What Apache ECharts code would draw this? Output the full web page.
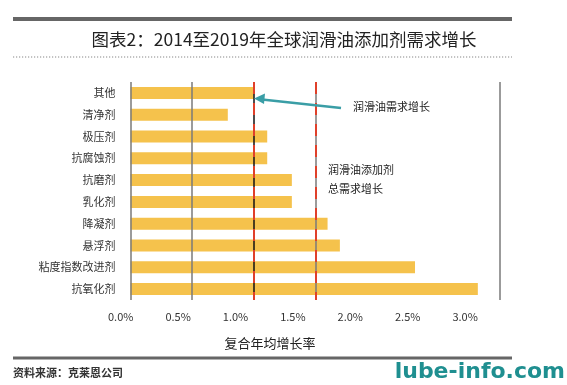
<!DOCTYPE html>
<html><head><meta charset="utf-8">
<script src="https://cdn.jsdelivr.net/npm/echarts@6/dist/echarts.min.js"></script>
<style>html,body{margin:0;padding:0;background:#fff}#c{width:567px;height:385px}</style>
</head><body><div id="c"></div>
<script>
var categories = ['其他','清净剂','极压剂','抗腐蚀剂','抗磨剂','乳化剂','降凝剂','悬浮剂','粘度指数改进剂','抗氧化剂'];
var values = [1.0, 0.79, 1.11, 1.11, 1.31, 1.31, 1.60, 1.70, 2.31, 2.82];
var tickLabels = [0, 0.5, 1.0, 1.5, 2.0, 2.5, 3.0];
var grayLines = [0, 0.5, 1.5, 3.0];
var blackLines = [1.0];
var redLines = [1.0, 1.5];
var FONT = '"Noto Sans CJK SC", "Noto Sans", sans-serif';

var chart = echarts.init(document.getElementById('c'));
chart.setOption({
  animation: false,
  title: {
    text: '图表2：2014至2019年全球润滑油添加剂需求增长',
    left: 279, top: 26, textAlign: 'center',
    textStyle: {fontFamily: FONT, fontSize: 17.5, fontWeight: 'normal', color: '#222'}
  },
  grid: [
    {left: 130.5, right: 67, top: 82, bottom: 85, containLabel: false},
    {left: 120.7, width: 344.4, top: 82, bottom: 85, containLabel: false}
  ],
  xAxis: [
    {gridIndex: 0, type: 'value', min: 0, max: 3, interval: 0.5,
     axisLine: {show: false}, axisTick: {show: false}, axisLabel: {show: false}, splitLine: {show: false}},
    {gridIndex: 1, type: 'value', min: 0, max: 3, interval: 0.5,
     axisLine: {show: false}, axisTick: {show: false}, splitLine: {show: false},
     axisLabel: {show: true, margin: 11, color: '#333', fontSize: 11, fontFamily: FONT,
       customValues: tickLabels,
       formatter: function (v) { return v.toFixed(1) + '%'; }}}
  ],
  yAxis: [
    {gridIndex: 0, type: 'category', data: categories, inverse: true,
     axisLine: {show: false}, axisTick: {show: false},
     axisLabel: {margin: 15, color: '#333', fontSize: 11, fontFamily: FONT}},
    {gridIndex: 1, type: 'category', data: categories, show: false}
  ],
  series: [
    {type: 'line', xAxisIndex: 0, yAxisIndex: 0, data: [], z: 1, silent: true,
     markLine: {symbol: 'none', silent: true, label: {show: false},
       data: grayLines.map(function (v) { return {xAxis: v, lineStyle: {color: '#7a7a7a', width: 1.5, type: 'solid'}}; })
         .concat(blackLines.map(function (v) { return {xAxis: v, lineStyle: {color: '#111', width: 1.5, type: 'solid'}}; }))
     }},
    {type: 'bar', xAxisIndex: 0, yAxisIndex: 0, data: values, barWidth: 12, z: 2,
     itemStyle: {color: '#f5c24c'}},
    {type: 'line', xAxisIndex: 0, yAxisIndex: 0, data: [], z: 5, silent: true,
     markLine: {symbol: 'none', silent: true, label: {show: false},
       lineStyle: {color: '#e0402a', width: 2, type: [12, 9]},
       data: redLines.map(function (v) { return {xAxis: v}; })}}
  ],
  graphic: [
    {type: 'line', shape: {x1: 13, y1: 19, x2: 512, y2: 19}, style: {stroke: '#666', lineWidth: 4}},
    {type: 'line', shape: {x1: 13, y1: 57, x2: 512, y2: 57}, style: {stroke: '#888', lineWidth: 1.2, lineDash: [1.2, 1.8]}},
    {type: 'line', shape: {x1: 13, y1: 358, x2: 512, y2: 358}, style: {stroke: '#666', lineWidth: 3}},
    {type: 'text', x: 270, y: 343, style: {text: '复合年均增长率', fontFamily: FONT, fontSize: 13, fill: '#222', align: 'center', verticalAlign: 'middle'}},
    {type: 'text', x: 353, y: 107, style: {text: '润滑油需求增长', fontFamily: FONT, fontSize: 11, fill: '#222', verticalAlign: 'middle'}},
    {type: 'text', x: 328, y: 170, style: {text: '润滑油添加剂', fontFamily: FONT, fontSize: 11, fill: '#222', verticalAlign: 'middle'}},
    {type: 'text', x: 328, y: 189, style: {text: '总需求增长', fontFamily: FONT, fontSize: 11, fill: '#222', verticalAlign: 'middle'}},
    {type: 'line', z: 10, shape: {x1: 341, y1: 108, x2: 262, y2: 99.5}, style: {stroke: '#3a9ea6', lineWidth: 2.5}},
    {type: 'polygon', z: 10, shape: {points: [[254, 98.5], [265, 93.5], [264, 104]]}, style: {fill: '#3a9ea6'}},
    {type: 'text', x: 13, y: 373, style: {text: '资料来源：克莱恩公司', fontFamily: FONT, fontSize: 11, fontWeight: 'bold', fill: '#333', verticalAlign: 'middle'}},
    {type: 'text', x: 565, y: 372, style: {text: 'lube-info.com', fontFamily: '"DejaVu Sans", sans-serif', fontSize: 22, fontWeight: 'bold', fill: '#1f8f90', align: 'right', verticalAlign: 'middle'}}
  ]
});
</script></body></html>
